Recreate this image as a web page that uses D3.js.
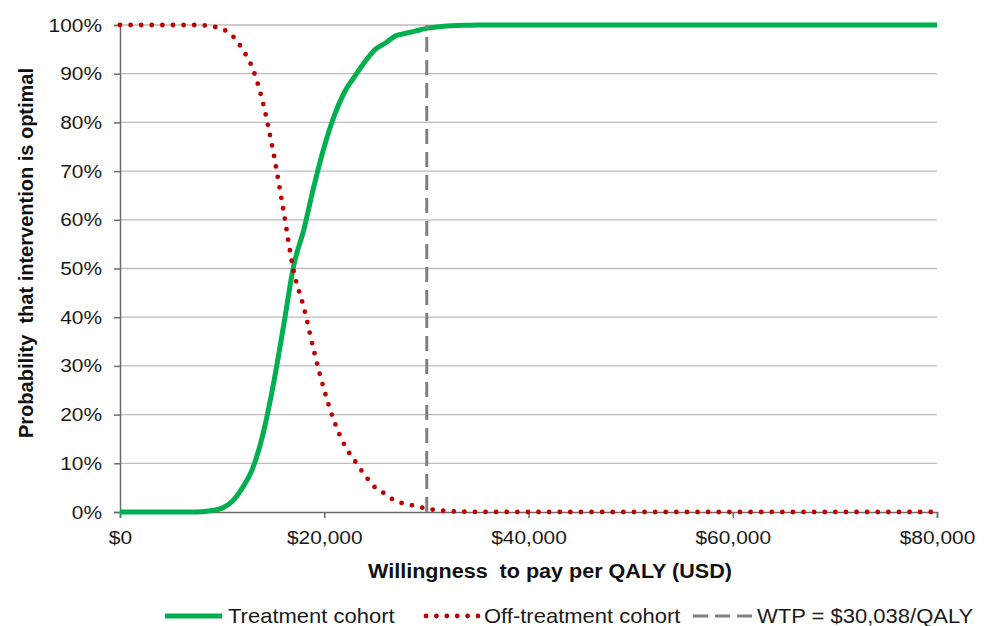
<!DOCTYPE html>
<html>
<head>
<meta charset="utf-8">
<script src="https://cdn.jsdelivr.net/npm/d3@7"></script>
<style>
  body { margin: 0; background: #fff; }
  text { font-family: "Liberation Sans", Arial, sans-serif; }
</style>
</head>
<body>
<svg id="chart" width="987" height="626"></svg>
<script>
// willingness-to-pay grid (USD per QALY)
const wtp = [0, 1000, 2000, 3000, 4000, 5000, 6000, 7000, 8000, 9000, 10000,
  11000, 12000, 13000, 14000, 15000, 16000, 17000, 18000, 19000, 20000,
  21000, 22000, 23000, 24000, 25000, 26000, 27000, 28000, 29000, 30000,
  31000, 32000, 33000, 34000, 35000, 36000, 40000, 50000, 60000, 70000, 80000];

// probability (%) that the intervention is optimal
const treatment = [0, 0, 0, 0, 0, 0, 0, 0, 0.05, 0.3, 0.8,
  2.2, 5, 9, 16, 26, 38, 50.5, 58, 67, 75,
  81.5, 86.3, 89.5, 92.5, 95, 96.3, 97.8, 98.3, 98.8, 99.3,
  99.6, 99.8, 99.9, 99.95, 100, 100, 100, 100, 100, 100, 100];

const offTreatment = [100, 100, 100, 100, 100, 100, 100, 100, 99.95, 99.7, 99.2,
  97.8, 95, 91, 84, 74, 62, 49.5, 42, 33, 25,
  18.5, 13.7, 10.5, 7.5, 5, 3.7, 2.2, 1.7, 1.2, 0.7,
  0.4, 0.2, 0.1, 0.05, 0, 0, 0, 0, 0, 0, 0];

const wtpThreshold = 30038;
const xTicks = [0, 20000, 40000, 60000, 80000];
const yTicks = [0, 0.1, 0.2, 0.3, 0.4, 0.5, 0.6, 0.7, 0.8, 0.9, 1];
const legendLabels = ['Treatment cohort', 'Off-treatment cohort', 'WTP = $30,038/QALY'];

const margin = { top: 25, right: 50, bottom: 114, left: 120 };
const width = 987, height = 626;
const innerW = width - margin.left - margin.right;
const innerH = height - margin.top - margin.bottom;
const sx = 1.1; // text in the reference is slightly wide

const svg = d3.select('#chart');
const g = svg.append('g').attr('transform', `translate(${margin.left},${margin.top})`);

const x = d3.scaleLinear().domain([0, 80000]).range([0, innerW]);
const y = d3.scaleLinear().domain([0, 1]).range([innerH, 0]);

// gridlines
g.append('g').selectAll('line').data(yTicks.slice(1)).enter().append('line')
  .attr('x1', 0).attr('x2', innerW)
  .attr('y1', d => y(d)).attr('y2', d => y(d))
  .attr('stroke', '#bdbdbd').attr('stroke-width', 1.3);

// axes
const yAxis = d3.axisLeft(y).tickValues(yTicks).tickFormat(d3.format('.0%')).tickSize(6).tickPadding(12);
const xAxis = d3.axisBottom(x).tickValues(xTicks).tickFormat(d3.format('$,')).tickSize(6).tickPadding(13);

const yg = g.append('g').call(yAxis);
const xg = g.append('g').attr('transform', `translate(0,${innerH})`).call(xAxis);
[yg, xg].forEach(ax => {
  ax.select('.domain').attr('stroke', '#6b6b6b').attr('stroke-width', 1.5);
  ax.selectAll('.tick line').attr('stroke', '#6b6b6b').attr('stroke-width', 1.5);
  ax.selectAll('.tick text')
    .attr('fill', '#1a1a1a')
    .style('font-size', '19px')
    .attr('transform', `scale(${sx},1)`);
});
yg.selectAll('.tick text').attr('x', -18 / sx);

// series
const rows = wtp.map((w, i) => ({ w, t: treatment[i] / 100, o: offTreatment[i] / 100 }));

g.append('path').datum(rows)
  .attr('fill', 'none').attr('stroke', '#00b050').attr('stroke-width', 5)
  .attr('stroke-linejoin', 'round')
  .attr('d', d3.line().x(d => x(d.w)).y(d => y(d.t)).curve(d3.curveMonotoneX));

g.append('path').datum(rows)
  .attr('fill', 'none').attr('stroke', '#c00000').attr('stroke-width', 4.8)
  .attr('stroke-linecap', 'round').attr('stroke-dasharray', '0,10.6')
  .attr('d', d3.line().x(d => x(d.w)).y(d => y(d.o)).curve(d3.curveMonotoneX));

g.append('line')
  .attr('x1', x(wtpThreshold)).attr('x2', x(wtpThreshold))
  .attr('y1', y(0)).attr('y2', y(1))
  .attr('stroke', '#808080').attr('stroke-width', 3).attr('stroke-dasharray', '15,8');

// axis titles
svg.append('text')
  .attr('transform', `translate(550,${margin.top + innerH + 66}) scale(${sx},1)`)
  .attr('text-anchor', 'middle').style('font-size', '19.6px').style('font-weight', 'bold')
  .style('white-space', 'pre').attr('fill', '#111')
  .text('Willingness  to pay per QALY (USD)');

svg.append('text')
  .attr('transform', 'translate(33,253) rotate(-90)')
  .attr('text-anchor', 'middle').style('font-size', '20px').style('font-weight', 'bold')
  .style('white-space', 'pre').attr('fill', '#111')
  .text('Probability  that intervention is optimal');

// legend
const legendY = 616;
const legend = [
  { x1: 165, x2: 222, tx: 228, stroke: '#00b050', w: 5, dash: null, cap: 'butt' },
  { x1: 426, x2: 478, tx: 484, stroke: '#c00000', w: 4.8, dash: '0,10.4', cap: 'round' },
  { x1: 693, x2: 752, tx: 757, stroke: '#808080', w: 3, dash: '15,7', cap: 'butt' }
];
const lg = svg.append('g');
legend.forEach((d, i) => {
  lg.append('line')
    .attr('x1', d.x1).attr('x2', d.x2).attr('y1', legendY).attr('y2', legendY)
    .attr('stroke', d.stroke).attr('stroke-width', d.w)
    .attr('stroke-linecap', d.cap).attr('stroke-dasharray', d.dash);
  lg.append('text')
    .attr('transform', `translate(${d.tx},${legendY}) scale(${sx},1)`)
    .attr('dy', '0.35em').style('font-size', '20px').attr('fill', '#1a1a1a')
    .text(legendLabels[i]);
});
</script>
</body>
</html>
